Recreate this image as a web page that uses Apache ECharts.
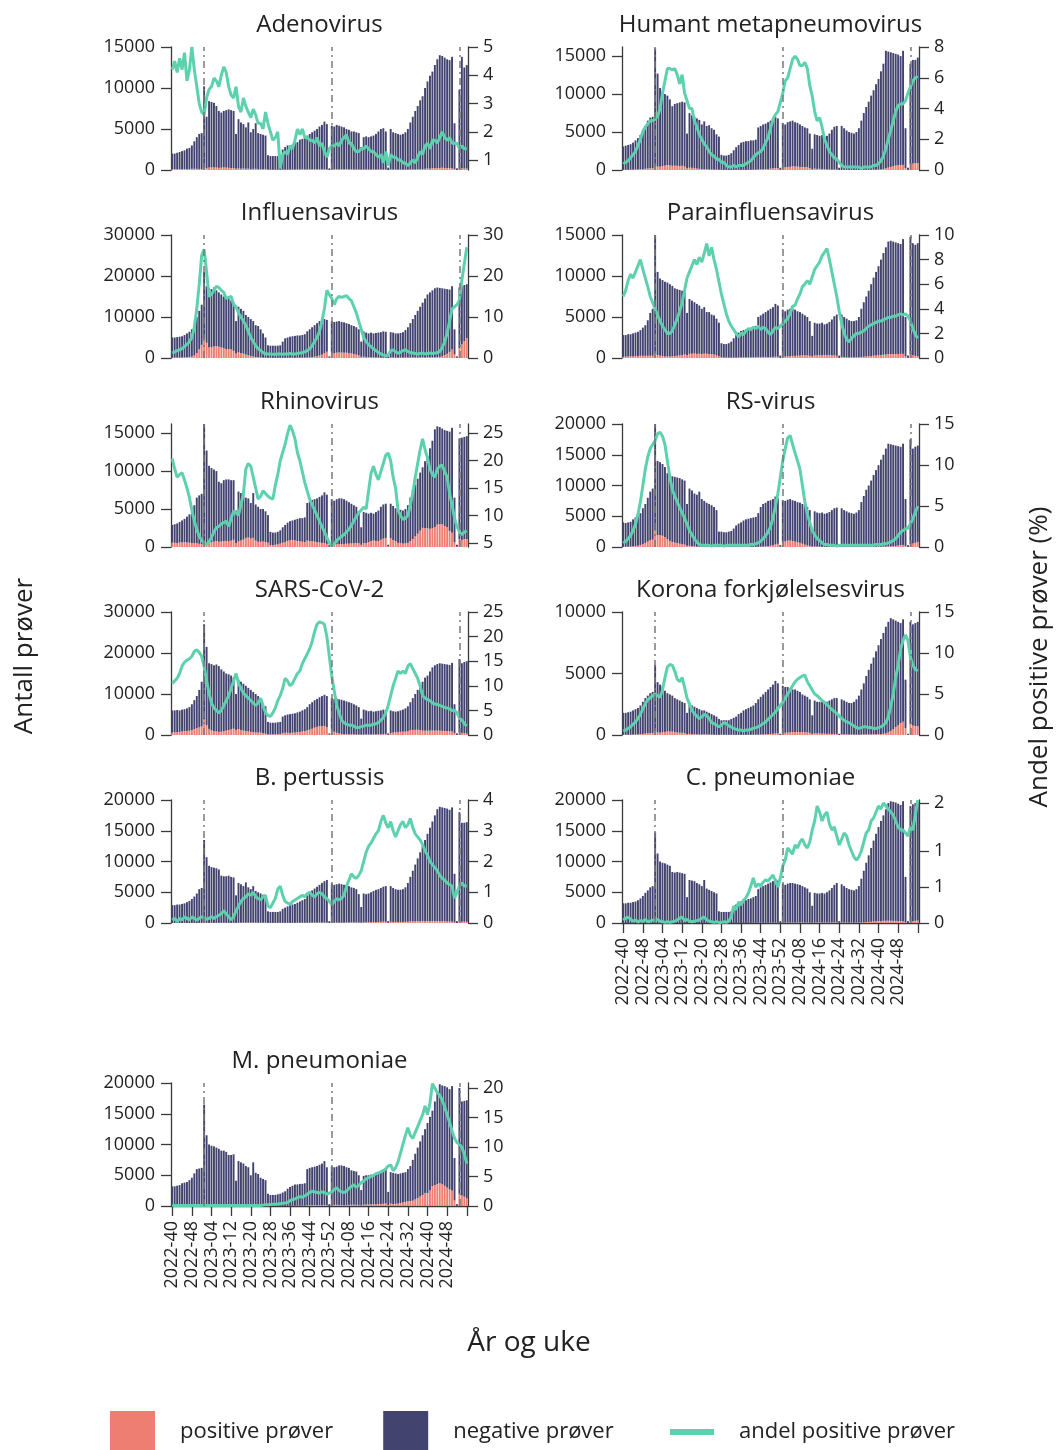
<!DOCTYPE html>
<html lang="no">
<head>
    <meta charset="UTF-8">
    <title>Luftveisagens - prøver per uke</title>
    <script src="https://cdn.jsdelivr.net/npm/echarts@6.0.0/dist/echarts.min.js"></script>
    <style>
        body { margin: 0; background: #fff; }
        #main { width: 1056px; height: 1450px; }
    </style>
</head>
<body>
<div id="main"></div>
<script>
    // uker 2022-40 .. 2025-04
    var weeks = [];
    function pad(n) { return n < 10 ? '0' + n : '' + n; }
    for (var w = 40; w <= 52; w++) weeks.push('2022-' + pad(w));
    for (w = 1; w <= 52; w++) weeks.push('2023-' + pad(w));
    for (w = 1; w <= 52; w++) weeks.push('2024-' + pad(w));
    for (w = 1; w <= 4; w++) weeks.push('2025-' + pad(w));
    var yearStarts = ['2023-01', '2024-01', '2025-01'];

    // akse-etiketter
    var ticks10k = [0, 5000, 10000];
    var ticks15k = [0, 5000, 10000, 15000];
    var ticks20k = [0, 5000, 10000, 15000, 20000];
    var ticks30k = [0, 10000, 20000, 30000];
    var adenoPctTicks = [1, 2, 3, 4, 5];
    var hmpvPctTicks = [0, 2, 4, 6, 8];
    var fluPctTicks = [0, 10, 20, 30];
    var paraPctTicks = [0, 2, 4, 6, 8, 10];
    var rhinoPctTicks = [5, 10, 15, 20, 25];
    var rsPctTicks = [0, 5, 10, 15];
    var sarsPctTicks = [0, 5, 10, 15, 20, 25];
    var koronaPctTicks = [0, 5, 10, 15];
    var pertPctTicks = [0, 1, 2, 3, 4];
    var cpneuPctTicks = [0, 0.6, 1.2, 2];
    var mpneuPctTicks = [0, 5, 10, 15, 20];

    // Adenovirus
    var adenoTot = [2000,2000,2100,2200,2300,2400,2600,2700,3000,3500,
        4000,4400,4500,10200,6500,8400,8300,8200,7800,7200,
        7000,7200,7300,7400,7300,7200,4400,6200,5800,5600,
        5200,5800,4600,5000,5700,4500,4400,4300,4200,1800,
        1700,1700,1700,1700,1800,2500,2800,3000,3000,3100,
        3300,3400,3700,3800,4000,4200,4400,4600,4800,5000,
        5300,5500,5900,5600,200,5400,5300,5500,5400,5300,
        5200,5000,4900,4700,4700,4600,4500,2800,4000,4100,
        4000,4100,4200,4400,4700,5000,5100,4700,300,5000,
        4600,4500,4400,4300,4400,4600,5000,5800,6500,7200,
        7800,8500,9000,10000,10800,11500,12000,12800,13500,14000,
        13900,13700,13500,13400,13800,5700,200,9800,13800,12500,
        12800];
    var adenoPos = [85,90,86,100,97,115,99,113,150,147,
        144,132,122,265,208,294,299,320,296,259,
        280,310,300,266,241,230,158,180,157,179,
        151,157,115,140,148,104,101,90,113,41,
        34,29,31,34,13,30,36,36,45,43,
        56,71,70,80,72,76,75,78,77,90,
        80,88,77,62,3,81,80,88,81,90,
        94,95,78,75,66,60,59,39,56,62,
        56,53,55,53,52,60,46,61,2,60,
        51,50,44,43,40,41,40,52,65,65,
        86,111,108,150,173,161,204,218,216,252,
        278,247,230,241,221,91,3,137,207,175,
        179];
    var adenoPct = [4.2,4.5,4.1,4.6,4.2,4.8,3.8,4.2,5.0,4.2,
        3.6,3.0,2.7,2.6,3.2,3.5,3.6,3.9,3.8,3.6,
        4.0,4.3,4.1,3.6,3.3,3.2,3.6,2.9,2.7,3.2,
        2.9,2.7,2.5,2.8,2.6,2.3,2.3,2.1,2.7,2.3,
        2.0,1.7,1.8,2.0,0.7,1.2,1.3,1.2,1.5,1.4,
        1.7,2.1,1.9,2.1,1.8,1.8,1.7,1.7,1.6,1.8,
        1.5,1.6,1.3,1.1,1.4,1.5,1.5,1.6,1.5,1.7,
        1.8,1.9,1.6,1.6,1.4,1.3,1.3,1.4,1.4,1.5,
        1.4,1.3,1.3,1.2,1.1,1.2,0.9,1.3,0.8,1.2,
        1.1,1.1,1.0,1.0,0.9,0.9,0.8,0.9,1.0,0.9,
        1.1,1.3,1.2,1.5,1.6,1.4,1.7,1.7,1.6,1.8,
        2.0,1.8,1.7,1.8,1.6,1.6,1.6,1.4,1.5,1.4,
        1.4];

    // Humant metapneumovirus
    var hmpvTot = [3100,3200,3300,3400,3600,3900,4200,4600,5200,5800,
        6500,6900,7000,16000,12700,10800,10300,10000,9800,9300,
        8400,8700,8800,8900,9000,8900,4800,7500,7200,7000,
        6800,6600,6000,6400,5800,5900,5500,5300,4700,4400,
        2000,1900,1900,2000,2200,2600,3000,3300,3600,3700,
        3800,3800,3900,3900,4000,5600,5800,6000,6100,6300,
        6500,6700,7000,6800,300,6200,6000,6300,6400,6500,
        6300,6200,6000,5800,5600,5500,4800,2800,4700,4600,
        4500,4600,4400,4500,4800,5300,5700,5800,300,5800,
        5500,5200,5000,4900,4800,5000,5500,6500,7500,8300,
        9000,9800,10500,11300,12000,13000,14000,15700,15600,15500,
        15400,15300,15200,15000,15700,5500,300,14000,14500,14500,
        14800];
    var hmpvPos = [12,16,20,27,36,47,67,92,130,162,
        195,221,224,528,445,432,515,580,647,614,
        546,574,546,498,558,445,216,300,288,224,
        190,152,120,109,87,71,55,48,33,31,
        10,10,6,4,4,8,6,10,11,11,
        15,19,23,31,40,62,70,84,110,132,
        176,221,252,258,13,310,348,378,422,468,
        466,446,408,394,392,363,264,134,179,147,
        153,129,88,72,58,53,46,41,2,17,
        11,10,10,10,10,10,11,7,15,17,
        18,20,32,34,48,78,126,220,312,403,
        493,581,638,645,675,248,15,756,841,870,
        903];
    var hmpvPct = [0.4,0.5,0.6,0.8,1.0,1.2,1.6,2.0,2.5,2.8,
        3.0,3.2,3.2,3.3,3.5,4.0,5.0,5.8,6.6,6.6,
        6.5,6.6,6.2,5.6,6.2,5.0,4.5,4.0,4.0,3.2,
        2.8,2.3,2.0,1.7,1.5,1.2,1.0,0.9,0.7,0.7,
        0.5,0.5,0.3,0.2,0.2,0.3,0.2,0.3,0.3,0.3,
        0.4,0.5,0.6,0.8,1.0,1.1,1.2,1.4,1.8,2.1,
        2.7,3.3,3.6,3.8,4.4,5.0,5.8,6.0,6.6,7.2,
        7.4,7.2,6.8,6.8,7.0,6.6,5.5,4.8,3.8,3.2,
        3.4,2.8,2.0,1.6,1.2,1.0,0.8,0.7,0.5,0.3,
        0.2,0.2,0.2,0.2,0.2,0.2,0.2,0.1,0.2,0.2,
        0.2,0.2,0.3,0.3,0.4,0.6,0.9,1.4,2.0,2.6,
        3.2,3.8,4.2,4.3,4.3,4.5,5.0,5.4,5.8,6.0,
        6.1];

    // Influensavirus
    var fluTot = [5000,5000,5100,5200,5300,5600,6000,6400,7000,8000,
        10000,11500,13000,21000,17500,17000,16800,17200,16500,16000,
        15500,15000,14700,14500,14000,13500,9000,12500,12000,11500,
        10500,10000,9500,9000,8000,7800,7000,6000,5000,3100,
        3000,3000,3000,3000,3100,4000,4800,5000,5200,5300,
        5400,5500,5500,5600,5800,6500,7000,7500,8000,8500,
        9000,9200,9500,9300,400,9000,8800,8900,9000,8800,
        8700,8500,8300,8000,7800,7500,7000,4000,6500,6200,
        6000,6200,6000,6100,6200,6300,6500,6400,400,6300,
        6200,6000,6000,6100,6300,6800,7500,8500,9500,10500,
        11500,12500,13500,14500,15500,16000,16500,17000,17200,17100,
        17000,16900,16800,16700,17500,7000,400,17200,17500,17800,
        18000];
    var fluPos = [60,75,90,100,120,160,200,260,350,600,
        1200,2100,3200,4700,3700,2600,2600,2800,2900,2750,
        2550,2400,2150,2150,2100,1750,1100,1350,1200,1050,
        850,650,480,360,240,180,130,80,50,30,
        30,27,27,30,31,36,48,50,57,53,
        54,60,66,73,87,117,154,225,320,425,
        585,830,1140,1530,60,1300,1150,1300,1350,1300,
        1300,1290,1200,1120,975,825,630,280,325,250,
        190,175,130,110,80,63,45,32,3,113,
        124,90,72,85,113,136,120,110,114,115,
        115,137,162,145,170,192,181,204,224,274,
        425,676,1008,1503,2100,875,52,2408,3325,4094,
        4860];
    var fluPct = [1.2,1.5,1.8,2.0,2.3,2.8,3.3,4.0,5.0,7.5,
        12,18,25,26.5,21,15,15.5,16.5,17.5,17.2,
        16.5,16,14.5,14.8,15,13,12.5,11,10,9,
        8,6.5,5,4,3,2.3,1.8,1.3,1.0,1.0,
        1.0,0.9,0.9,1.0,1.0,0.9,1.0,1.0,1.1,1.0,
        1.0,1.1,1.2,1.3,1.5,1.8,2.2,3.0,4.0,5.0,
        6.5,9,12,16.5,15.5,14.5,13,14.5,15,14.8,
        15,15.2,14.5,14,12.5,11,9,7,5,4,
        3.2,2.8,2.2,1.8,1.3,1.0,0.7,0.5,0.8,1.8,
        2.0,1.5,1.2,1.4,1.8,2.0,1.6,1.3,1.2,1.1,
        1.0,1.1,1.2,1.0,1.1,1.2,1.1,1.2,1.3,1.6,
        2.5,4,6,9,12,12.5,13,14,19,23,
        27];

    // Parainfluensavirus
    var paraTot = [2800,2800,2900,2900,3000,3100,3200,3400,3700,4000,
        4600,5500,6000,15000,10500,9700,9500,9300,9200,9000,
        8800,8500,8400,8300,8200,8000,5500,7200,7000,6800,
        6600,6400,6000,6200,5600,5600,5300,5200,4800,4300,
        1800,1700,1700,1800,2000,2400,2800,3100,3300,3400,
        3500,3600,3700,3800,3900,5000,5200,5400,5600,5800,
        6000,6200,6600,6400,300,5900,5700,5900,6000,6000,
        5900,5700,5600,5400,5200,5000,4500,2700,4300,4200,
        4200,4300,4100,4200,4400,4700,5100,5300,300,5300,
        5000,4800,4600,4500,4500,4600,5000,6000,6800,7500,
        8200,9000,9800,10500,11200,12000,12800,13500,14200,14300,
        14200,14100,14000,13900,14500,5000,300,14800,14000,13800,
        14000];
    var paraPos = [140,154,183,197,195,217,240,272,266,260,
        267,275,270,600,368,291,247,214,184,180,
        194,230,269,315,369,440,358,504,525,544,
        502,525,468,527,521,465,477,416,312,215,
        72,54,48,41,40,53,45,62,76,65,
        77,86,85,95,94,130,120,135,134,122,
        114,136,165,154,8,165,171,189,216,252,
        254,274,291,313,312,315,270,178,310,315,
        328,357,353,374,352,329,306,265,11,148,
        100,72,60,72,81,92,100,126,150,180,
        213,243,274,305,336,360,397,432,469,472,
        483,479,490,500,508,180,10,444,336,262,
        224];
    var paraPct = [5.0,5.5,6.3,6.8,6.5,7.0,7.5,8.0,7.2,6.5,
        5.8,5.0,4.5,4.0,3.5,3.0,2.6,2.3,2.0,2.0,
        2.2,2.7,3.2,3.8,4.5,5.5,6.5,7.0,7.5,8.0,
        7.6,8.2,7.8,8.5,9.3,8.3,9.0,8.0,7.2,6.2,
        5.2,4.4,3.6,3.0,2.6,2.3,2.0,1.7,2.0,1.9,
        2.2,2.4,2.3,2.5,2.4,2.6,2.3,2.5,2.4,2.1,
        1.9,2.2,2.5,2.4,2.6,2.8,3.0,3.2,3.6,4.2,
        4.3,4.8,5.2,5.8,6.0,6.3,6.0,6.6,7.2,7.5,
        7.8,8.3,8.6,8.9,8.0,7.0,6.0,5.0,3.8,2.8,
        2.0,1.5,1.3,1.6,1.8,2.0,2.0,2.1,2.2,2.4,
        2.6,2.7,2.8,2.9,3.0,3.0,3.1,3.2,3.3,3.3,
        3.4,3.4,3.5,3.6,3.5,3.6,3.4,3.0,2.4,1.9,
        1.6];

    // Rhinovirus
    var rhinoTot = [2900,3000,3100,3300,3500,3700,4000,4300,4700,5500,
        6500,6800,7000,16200,12700,10700,10400,10200,10000,8600,
        8400,8800,8900,8900,8800,8800,4800,7300,7100,7000,
        6500,6400,5800,7100,5600,5300,5000,5000,4700,4200,
        2000,1900,1900,2000,2200,2600,2900,3200,3400,3500,
        3600,3700,3800,3800,3900,5800,6000,6200,6300,6400,
        6600,6800,7200,6900,300,6300,6100,6300,6400,6400,
        6300,6100,5900,5700,5500,5300,4700,2600,4600,4500,
        4400,4500,4400,4600,4800,5300,5600,5700,300,5700,
        5400,5100,5000,4900,4800,5000,5500,6500,7500,8200,
        9000,9800,10500,11300,12000,13000,14000,15500,15900,15800,
        15600,15400,15300,15200,15700,6500,300,14300,14400,14500,
        14600];
    var rhinoPos = [592,555,527,578,623,610,600,572,517,495,
        488,422,385,810,597,556,624,714,780,688,
        714,766,801,712,836,950,504,730,852,980,
        1203,1248,1102,1207,840,689,675,725,658,567,
        264,247,295,350,440,559,667,800,901,893,
        864,796,760,684,624,841,780,744,693,640,
        594,544,504,414,15,284,293,347,371,397,
        410,427,443,467,495,519,494,286,529,504,
        638,797,836,805,792,954,1092,1197,64,1140,
        918,765,550,490,446,475,550,780,1050,1394,
        1755,2156,2520,2486,2460,2405,2450,2635,2942,3002,
        2995,2772,2601,2128,1884,618,24,1001,936,1015,
        1051];
    var rhinoPct = [20.4,18.5,17.0,17.5,17.8,16.5,15.0,13.3,11.0,9.0,
        7.5,6.2,5.5,5.0,4.7,5.2,6.0,7.0,7.8,8.0,
        8.5,8.7,9.0,8.0,9.5,10.8,10.5,10.0,12.0,14.0,
        18.5,19.5,19.0,17.0,15.0,13.0,13.5,14.5,14.0,13.5,
        13.2,13.0,15.5,17.5,20.0,21.5,23.0,25.0,26.5,25.5,
        24.0,21.5,20.0,18.0,16.0,14.5,13.0,12.0,11.0,10.0,
        9.0,8.0,7.0,6.0,5.0,4.5,4.8,5.5,5.8,6.2,
        6.5,7.0,7.5,8.2,9.0,9.8,10.5,11.0,11.5,11.2,
        14.5,17.7,19.0,17.5,16.5,18.0,19.5,21.0,21.4,20.0,
        17.0,15.0,11.0,10.0,9.3,9.5,10.0,12.0,14.0,17.0,
        19.5,22.0,24.0,22.0,20.5,18.5,17.5,17.0,18.5,19.0,
        19.2,18.0,17.0,14.0,12.0,9.5,8.0,7.0,6.5,7.0,
        7.2];

    // RS-virus
    var rsTot = [4000,3900,4000,4100,4500,4800,5000,5500,6300,7000,
        8000,9000,9500,20000,14000,13800,13500,13000,12000,11800,
        11500,11400,11300,11200,11000,10800,7000,9500,9200,8700,
        8500,9000,7800,7500,7200,7000,6800,6500,6000,2500,
        2500,2400,2400,2500,2600,3000,3500,3800,4000,4300,
        4500,4600,4700,4800,4900,5500,6500,7000,7200,7500,
        7600,7800,8200,7900,300,7600,7500,7700,7800,7600,
        7500,7300,7200,7000,6800,6500,6000,2800,5800,5600,
        5500,5600,5400,5500,5700,6000,6300,6400,300,6300,
        6000,5800,5600,5500,5400,5600,6000,7300,8300,9300,
        10000,10800,11700,12500,13300,14200,15000,16000,16800,16700,
        16600,16500,16400,16300,16800,7800,300,17500,16000,16300,
        16500];
    var rsPos = [20,27,40,57,90,134,200,303,473,665,
        880,1080,1190,2665,1930,1930,1820,1625,1260,1000,
        805,707,620,538,462,378,196,190,138,87,
        51,27,16,15,14,14,7,13,12,5,
        5,2,5,5,5,6,7,8,8,9,
        9,9,14,14,20,28,46,70,100,135,
        190,273,410,513,26,800,900,1024,1060,950,
        862,766,684,525,374,260,180,56,87,56,
        44,28,16,17,11,12,13,6,1,13,
        12,12,11,11,11,11,12,15,17,19,
        20,22,23,38,40,43,60,64,84,100,
        133,165,230,293,336,172,7,490,560,685,
        825];
    var rsPct = [0.5,0.7,1.0,1.4,2.0,2.8,4.0,5.5,7.5,9.5,
        11.0,12.0,12.5,13.0,13.8,14.0,13.5,12.5,10.5,8.5,
        7.0,6.2,5.5,4.8,4.2,3.5,2.8,2.0,1.5,1.0,
        0.6,0.3,0.2,0.2,0.2,0.2,0.1,0.2,0.2,0.2,
        0.2,0.1,0.2,0.2,0.2,0.2,0.2,0.2,0.2,0.2,
        0.2,0.2,0.3,0.3,0.4,0.5,0.7,1.0,1.4,1.8,
        2.5,3.5,5.0,6.5,8.5,10.5,12.0,13.3,13.6,12.5,
        11.5,10.5,9.5,7.5,5.5,4.0,3.0,2.0,1.5,1.0,
        0.8,0.5,0.3,0.3,0.2,0.2,0.2,0.1,0.2,0.2,
        0.2,0.2,0.2,0.2,0.2,0.2,0.2,0.2,0.2,0.2,
        0.2,0.2,0.2,0.3,0.3,0.3,0.4,0.4,0.5,0.6,
        0.8,1.0,1.4,1.8,2.0,2.2,2.3,2.8,3.5,4.2,
        5.0];

    // SARS-CoV-2
    var sarsTot = [6000,6000,6100,6000,6200,6300,6500,6800,7500,8500,
        9500,11000,13000,27000,21500,17500,17300,17000,17200,16800,
        16000,15500,15000,14800,14500,14000,10000,13500,13000,12500,
        12000,11500,11000,10500,10000,9500,8000,7500,7000,3200,
        3000,3000,3000,3100,3200,4500,4800,5000,5100,5200,
        5300,5500,5700,6000,6300,6800,7500,8000,8500,8800,
        9200,9500,9800,9500,400,9000,8800,8900,8700,8600,
        8400,8200,8000,7800,7500,7200,6800,4000,6200,6000,
        5800,5900,5700,5800,5900,6000,6200,6100,400,6000,
        5800,5700,5800,6000,6200,6500,7000,8000,9000,10000,
        11000,12000,13000,14000,14500,15500,16500,17000,17300,17500,
        17400,17300,17200,17100,17600,7500,400,18500,17500,17800,
        18000];
    var sarsPos = [630,660,700,750,870,930,990,1050,1200,1445,
        1640,1850,2080,3780,2365,1490,1125,935,860,755,
        800,930,1050,1185,1380,1540,1250,1420,1235,1060,
        960,860,770,680,600,620,600,450,315,128,
        114,135,165,217,256,428,552,550,510,546,
        610,688,741,870,977,1122,1313,1520,1785,1980,
        2116,2166,2205,1900,64,1080,792,534,392,258,
        210,180,160,156,135,108,102,68,112,120,
        116,118,125,133,148,180,217,275,24,480,
        580,656,754,750,806,813,980,1160,1215,1250,
        1265,1200,1040,1050,1044,1085,1073,1071,1073,1050,
        1009,969,946,906,880,375,18,648,525,409,
        324];
    var sarsPct = [10.5,11.0,11.5,12.5,14.0,14.8,15.2,15.5,16.0,17.0,
        17.3,16.8,16.0,14.0,11.0,8.5,6.5,5.5,5.0,4.5,
        5.0,6.0,7.0,8.0,9.5,11.0,12.5,10.5,9.5,8.5,
        8.0,7.5,7.0,6.5,6.0,6.5,7.5,6.0,4.5,4.0,
        3.8,4.5,5.5,7.0,8.0,9.5,11.5,11.0,10.0,10.5,
        11.5,12.5,13.0,14.5,15.5,16.5,17.5,19.0,21.0,22.5,
        23.0,22.8,22.5,20.0,16.0,12.0,9.0,6.0,4.5,3.0,
        2.5,2.2,2.0,2.0,1.8,1.5,1.5,1.7,1.8,2.0,
        2.0,2.0,2.2,2.3,2.5,3.0,3.5,4.5,6.0,8.0,
        10.0,11.5,13.0,12.5,13.0,12.5,14.0,14.5,13.5,12.5,
        11.5,10.0,8.0,7.5,7.2,7.0,6.5,6.3,6.2,6.0,
        5.8,5.6,5.5,5.3,5.0,5.0,4.5,3.5,3.0,2.3,
        1.8];

    // Korona forkjølelsesvirus
    var koronaTot = [1800,1800,1850,1900,2000,2100,2200,2400,2700,3000,
        3200,3400,3500,5700,4300,4100,4000,3600,3400,3300,
        3200,3000,2900,2800,2700,2600,1800,2500,2400,2300,
        2200,2100,2000,2000,1900,1800,1700,1600,1500,1300,
        1200,1200,1200,1200,1300,1400,1500,1700,1800,2000,
        2100,2200,2300,2400,2600,2900,3100,3300,3500,3700,
        3900,4100,4400,4200,100,4000,3900,3900,3800,3700,
        3700,3600,3500,3300,3200,3100,2900,1600,2800,2700,
        2700,2700,2600,2700,2800,2900,3000,3000,100,2900,
        2800,2700,2600,2600,2700,2900,3200,3700,4200,4800,
        5300,5800,6300,6800,7300,7800,8300,8800,9200,9500,
        9400,9300,9200,9100,9400,4500,100,9200,9000,9100,
        9200];
    var koronaPos = [9,11,15,19,26,34,44,60,86,114,
        138,153,168,285,206,189,220,252,282,284,
        272,234,197,182,189,151,81,95,72,60,
        51,42,44,50,46,36,26,22,18,13,
        14,18,17,13,13,11,11,10,11,10,
        13,13,16,19,23,29,37,46,56,70,
        86,103,123,134,4,160,176,195,209,222,
        240,245,245,238,234,202,174,88,140,130,
        122,113,104,100,95,90,87,78,2,58,
        50,43,39,34,30,26,26,33,42,48,
        48,52,50,54,66,78,100,132,202,333,
        470,651,782,956,1081,549,12,874,765,728,
        718];
    var koronaPct = [0.5,0.6,0.8,1.0,1.3,1.6,2.0,2.5,3.2,3.8,
        4.3,4.5,4.8,5.0,4.8,4.6,5.5,7.0,8.3,8.6,
        8.5,7.8,6.8,6.5,7.0,5.8,4.5,3.8,3.0,2.6,
        2.3,2.0,2.2,2.5,2.4,2.0,1.5,1.4,1.2,1.0,
        1.2,1.5,1.4,1.1,1.0,0.8,0.7,0.6,0.6,0.5,
        0.6,0.6,0.7,0.8,0.9,1.0,1.2,1.4,1.6,1.9,
        2.2,2.5,2.8,3.2,3.6,4.0,4.5,5.0,5.5,6.0,
        6.5,6.8,7.0,7.2,7.3,6.5,6.0,5.5,5.0,4.8,
        4.5,4.2,4.0,3.7,3.4,3.1,2.9,2.6,2.3,2.0,
        1.8,1.6,1.5,1.3,1.1,0.9,0.8,0.9,1.0,1.0,
        0.9,0.9,0.8,0.8,0.9,1.0,1.2,1.5,2.2,3.5,
        5.0,7.0,8.5,10.5,11.5,12.2,11.5,9.5,8.5,8.0,
        7.8];

    // B. pertussis
    var pertTot = [2900,2900,3000,3000,3100,3200,3400,3600,3900,4300,
        4800,5500,5700,13500,10700,9300,9100,9000,8900,8700,
        7700,7600,7600,7700,7500,7400,4500,6500,6300,6000,
        6600,5800,5500,6000,5200,5000,4800,4600,4400,1900,
        1800,1800,1800,1800,1900,2300,2500,2700,2900,3000,
        3100,3300,3500,3700,3900,4500,5000,5300,5600,5900,
        6200,6500,6800,7000,300,6400,6200,6300,6400,6300,
        6200,6100,6000,5800,5700,5500,4700,2600,4800,4700,
        4800,5000,5200,5400,5500,5700,5900,6000,300,6000,
        5700,5500,5400,5400,5500,5800,6500,7500,8500,9500,
        10500,11500,12500,13500,14500,15500,16500,17500,18500,18900,
        18800,18700,18600,18400,18800,8000,300,18000,16300,16300,
        16400];
    var pertPos = [3,4,2,5,3,6,5,4,8,6,
        5,8,11,24,13,14,18,14,18,22,
        23,30,23,15,8,15,18,36,44,48,
        56,55,50,60,44,40,36,39,40,10,
        9,12,14,20,23,21,18,18,17,21,
        23,26,30,33,33,43,50,48,48,56,
        62,62,58,56,2,38,43,50,48,50,
        56,73,84,93,86,80,73,44,96,108,
        120,130,143,157,165,188,207,195,9,198,
        171,154,162,173,182,180,208,255,264,276,
        294,311,319,317,319,310,314,315,315,293,
        273,262,242,230,226,64,3,216,212,196,
        197];
    var pertPct = [0.10,0.15,0.05,0.15,0.10,0.20,0.15,0.10,0.20,0.15,
        0.10,0.15,0.20,0.18,0.12,0.15,0.20,0.15,0.20,0.25,
        0.30,0.40,0.30,0.20,0.10,0.20,0.40,0.55,0.70,0.80,
        0.85,0.95,0.90,1.00,0.85,0.80,0.75,0.85,0.90,0.55,
        0.50,0.65,0.80,1.10,1.20,0.90,0.70,0.65,0.60,0.70,
        0.75,0.80,0.85,0.90,0.85,0.95,1.00,0.90,0.85,0.95,
        1.00,0.95,0.85,0.80,0.70,0.60,0.70,0.80,0.75,0.80,
        0.90,1.20,1.40,1.60,1.50,1.45,1.55,1.70,2.00,2.30,
        2.50,2.60,2.75,2.90,3.00,3.30,3.50,3.25,3.10,3.30,
        3.00,2.80,3.00,3.20,3.30,3.10,3.20,3.40,3.10,2.90,
        2.80,2.70,2.55,2.35,2.20,2.00,1.90,1.80,1.70,1.55,
        1.45,1.40,1.30,1.25,1.20,0.80,1.00,1.20,1.30,1.20,
        1.20];

    // C. pneumoniae
    var cpneuTot = [3200,3200,3300,3300,3400,3500,3700,4000,4400,4900,
        5300,5800,6000,14700,11300,10000,9800,9700,9500,9300,
        8300,8200,8300,8200,8100,8000,4200,7000,6900,6800,
        6500,6300,6000,7000,5600,5400,5200,5000,4800,1900,
        1800,1800,1800,1800,1900,2600,3000,3200,3500,3600,
        3700,3900,4000,4200,4400,5500,5800,6000,6200,6400,
        6600,6800,7200,6900,300,6400,6200,6400,6500,6500,
        6400,6300,6200,6000,5800,5600,5000,2800,4900,4800,
        4800,4900,4800,5000,5300,5700,6200,6500,300,6300,
        6000,5700,5500,5400,5300,5500,6000,7200,8500,9800,
        11000,12200,13400,14500,15600,16600,17500,18500,19500,19800,
        19700,19600,19400,19200,19800,7500,300,19000,19300,19500,
        19800];
    var cpneuPos = [2,3,3,2,1,2,1,2,1,3,
        1,2,3,6,7,3,2,1,2,1,
        2,2,4,7,8,3,3,2,1,2,
        3,3,5,7,3,2,1,1,1,0,
        0,0,0,1,2,7,7,11,11,14,
        16,20,25,32,26,36,36,41,45,45,
        50,54,50,41,2,61,65,80,78,75,
        83,79,84,84,75,70,68,43,83,94,
        89,83,86,93,87,88,99,94,4,88,
        90,83,72,65,58,58,66,86,115,147,
        171,207,235,268,304,315,350,361,371,366,
        355,333,310,298,307,113,4,304,299,351,
        406];
    var cpneuPct = [0.05,0.08,0.10,0.06,0.03,0.05,0.02,0.04,0.03,0.06,
        0.02,0.03,0.05,0.04,0.06,0.03,0.02,0.01,0.02,0.01,
        0.02,0.03,0.05,0.08,0.10,0.04,0.06,0.03,0.02,0.03,
        0.04,0.05,0.08,0.10,0.05,0.03,0.02,0.01,0.02,0.01,
        0.01,0.02,0.01,0.03,0.10,0.28,0.22,0.35,0.30,0.38,
        0.42,0.50,0.62,0.75,0.60,0.65,0.62,0.68,0.72,0.70,
        0.75,0.80,0.70,0.60,0.75,0.95,1.05,1.25,1.20,1.15,
        1.30,1.25,1.35,1.40,1.30,1.25,1.35,1.55,1.70,1.95,
        1.85,1.70,1.80,1.85,1.65,1.55,1.60,1.45,1.30,1.40,
        1.50,1.45,1.30,1.20,1.10,1.05,1.10,1.20,1.35,1.50,
        1.55,1.70,1.75,1.85,1.95,1.90,2.00,1.95,1.90,1.85,
        1.80,1.70,1.60,1.55,1.55,1.50,1.45,1.60,1.55,1.80,
        2.05];

    // M. pneumoniae
    var mpneuTot = [3200,3200,3300,3400,3700,3800,3900,4200,4600,5300,
        6000,6100,6200,16500,11500,10000,9800,9700,9500,9300,
        9000,9000,8800,8300,8300,8400,4100,7300,7100,6900,
        6500,6300,5000,7100,5400,5200,4600,4400,4200,2000,
        1800,1800,1800,1900,2000,2200,2400,2800,3100,3300,
        3500,3500,3600,3600,3700,6000,6200,6300,6400,6500,
        6700,6900,7300,6300,300,6400,6300,6400,6600,6600,
        6500,6300,6200,5800,5700,5600,5000,2600,4900,5000,
        5000,5100,5000,5100,5300,5500,6000,6200,2300,5500,
        5400,5300,5200,5300,5400,5500,6000,6500,7500,8500,
        9500,10500,11500,12500,13500,14500,15500,17000,18500,19800,
        19600,19500,19300,19000,19500,7800,300,19200,17000,17100,
        17200];
    var mpneuPos = [3,3,3,3,4,4,4,4,5,5,
        6,6,6,16,12,10,10,10,10,9,
        9,9,9,8,8,8,4,7,7,7,
        7,6,5,7,5,5,5,7,8,4,
        5,5,5,7,8,10,12,17,28,36,
        42,49,58,54,63,120,143,158,154,150,
        147,166,168,126,7,154,176,198,172,158,
        150,158,186,191,205,179,175,104,206,230,
        240,255,260,281,297,319,360,391,156,385,
        324,345,390,477,567,660,798,780,863,1063,
        1283,1523,1783,2125,2093,2538,3224,3400,3571,3722,
        3528,3276,2992,2698,2496,897,32,2016,1700,1505,
        1238];
    var mpneuPct = [0.1,0.1,0.1,0.1,0.1,0.1,0.1,0.1,0.1,0.1,
        0.1,0.1,0.1,0.1,0.1,0.1,0.1,0.1,0.1,0.1,
        0.1,0.1,0.1,0.1,0.1,0.1,0.1,0.1,0.1,0.1,
        0.1,0.1,0.1,0.1,0.1,0.1,0.1,0.15,0.2,0.2,
        0.25,0.3,0.3,0.35,0.4,0.45,0.5,0.6,0.9,1.1,
        1.2,1.4,1.6,1.5,1.7,2.0,2.3,2.5,2.4,2.3,
        2.2,2.4,2.3,2.0,2.2,2.4,2.8,3.1,2.6,2.4,
        2.3,2.5,3.0,3.3,3.6,3.2,3.5,4.0,4.2,4.6,
        4.8,5.0,5.2,5.5,5.6,5.8,6.0,6.3,6.8,7.0,
        6.0,6.5,7.5,9.0,10.5,12.0,13.3,12.0,11.5,12.5,
        13.5,14.5,15.5,17.0,15.5,17.5,20.8,20.0,19.3,18.8,
        18.0,16.8,15.5,14.2,12.8,11.5,10.8,10.5,10.0,8.8,
        7.2];

    var panels = [
        {title: 'Adenovirus', tot: adenoTot, pos: adenoPos, pct: adenoPct, yMax: 15000, yTicks: ticks15k, rMin: 0.65, rMax: 5, rTicks: adenoPctTicks},
        {title: 'Humant metapneumovirus', tot: hmpvTot, pos: hmpvPos, pct: hmpvPct, yMax: 16200, yTicks: ticks15k, rMin: 0, rMax: 8, rTicks: hmpvPctTicks},
        {title: 'Influensavirus', tot: fluTot, pos: fluPos, pct: fluPct, yMax: 30000, yTicks: ticks30k, rMin: 0, rMax: 30, rTicks: fluPctTicks},
        {title: 'Parainfluensavirus', tot: paraTot, pos: paraPos, pct: paraPct, yMax: 15000, yTicks: ticks15k, rMin: 0, rMax: 10, rTicks: paraPctTicks},
        {title: 'Rhinovirus', tot: rhinoTot, pos: rhinoPos, pct: rhinoPct, yMax: 16200, yTicks: ticks15k, rMin: 4.26, rMax: 26.7, rTicks: rhinoPctTicks},
        {title: 'RS-virus', tot: rsTot, pos: rsPos, pct: rsPct, yMax: 20000, yTicks: ticks20k, rMin: 0, rMax: 15, rTicks: rsPctTicks},
        {title: 'SARS-CoV-2', tot: sarsTot, pos: sarsPos, pct: sarsPct, yMax: 30000, yTicks: ticks30k, rMin: 0, rMax: 25, rTicks: sarsPctTicks},
        {title: 'Korona forkjølelsesvirus', tot: koronaTot, pos: koronaPos, pct: koronaPct, yMax: 10000, yTicks: ticks10k, rMin: 0, rMax: 15, rTicks: koronaPctTicks},
        {title: 'B. pertussis', tot: pertTot, pos: pertPos, pct: pertPct, yMax: 20000, yTicks: ticks20k, rMin: 0, rMax: 4, rTicks: pertPctTicks},
        {title: 'C. pneumoniae', tot: cpneuTot, pos: cpneuPos, pct: cpneuPct, yMax: 20000, yTicks: ticks20k, rMin: 0, rMax: 2.05, rTicks: cpneuPctTicks},
        {title: 'M. pneumoniae', tot: mpneuTot, pos: mpneuPos, pct: mpneuPct, yMax: 20000, yTicks: ticks20k, rMin: 0, rMax: 20.9, rTicks: mpneuPctTicks}
    ];

    var FONT = '"Open Sans", sans-serif';
    var TXT = '#222';
    var AX = '#3a3a3a';
    var POS_C = '#ee7e72';
    var NEG_C = '#42446f';
    var LINE_C = '#5dd1ad';
    var colLeft = [171, 622];
    var rowTop = [47, 235, 424, 612, 800, 1083];
    var gw = 297, gh = 123;

    var titles = [], grids = [], xAxes = [], yAxes = [], series = [];
    panels.forEach(function (p, k) {
        var col = k < 10 ? k % 2 : 0;
        var top = rowTop[k < 10 ? Math.floor(k / 2) : 5];
        var left = colLeft[col];
        var bottomAxis = (k === 9 || k === 10);

        titles.push({
            text: p.title, left: left + gw / 2, top: top - 34, textAlign: 'center', padding: 0,
            textStyle: {fontFamily: FONT, fontSize: 24, fontWeight: 'normal', color: TXT}
        });
        grids.push({left: left, top: top, width: gw, height: gh});
        xAxes.push({
            type: 'category', gridIndex: k, data: weeks, boundaryGap: true,
            axisLine: {show: bottomAxis, lineStyle: {color: AX, width: 1.3}},
            axisTick: {show: bottomAxis, alignWithLabel: true, length: 10,
                interval: function (i) { return i % 8 === 0; },
                lineStyle: {color: AX, width: 1.3}},
            axisLabel: {show: bottomAxis, rotate: 90, fontSize: 18, color: TXT, fontFamily: FONT, margin: 15,
                interval: function (i) { return i % 8 === 0 && i < 120; }},
            splitLine: {show: false}
        });
        yAxes.push({
            type: 'value', gridIndex: k, position: 'left', min: 0, max: p.yMax,
            axisLine: {show: true, lineStyle: {color: AX, width: 1.3}},
            axisTick: {show: true, length: 10, customValues: p.yTicks, lineStyle: {color: AX, width: 1.3}},
            axisLabel: {customValues: p.yTicks, fontSize: 18, color: TXT, fontFamily: FONT, margin: 16,
                formatter: function (v) { return String(v); }},
            splitLine: {show: false}
        });
        yAxes.push({
            type: 'value', gridIndex: k, position: 'right', min: p.rMin, max: p.rMax,
            axisLine: {show: true, lineStyle: {color: AX, width: 1.3}},
            axisTick: {show: true, length: 10, customValues: p.rTicks, lineStyle: {color: AX, width: 1.3}},
            axisLabel: {customValues: p.rTicks, fontSize: 18, color: TXT, fontFamily: FONT, margin: 15,
                formatter: function (v) { return String(Math.round(v)); }},
            splitLine: {show: false}
        });

        // årsskifte
        series.push({
            type: 'line', name: 'aarsskifte', xAxisIndex: k, yAxisIndex: 2 * k, data: [], z: 1, silent: true,
            markLine: {
                symbol: 'none', silent: true, label: {show: false}, animation: false,
                lineStyle: {color: '#7a7a7a', width: 1.5, type: [7, 4, 2, 4]},
                data: yearStarts.map(function (c) { return {xAxis: c}; })
            }
        });
        var neg = p.tot.map(function (t, i) { return Math.max(t - p.pos[i], 0); });
        series.push({
            type: 'bar', name: 'positive prøver', xAxisIndex: k, yAxisIndex: 2 * k, stack: 'st' + k,
            data: p.pos, itemStyle: {color: POS_C}, barCategoryGap: '22%', z: 2
        });
        series.push({
            type: 'bar', name: 'negative prøver', xAxisIndex: k, yAxisIndex: 2 * k, stack: 'st' + k,
            data: neg, itemStyle: {color: NEG_C}, barCategoryGap: '22%', z: 2
        });
        series.push({
            type: 'line', name: 'andel positive prøver', xAxisIndex: k, yAxisIndex: 2 * k + 1,
            data: p.pct, symbol: 'none', z: 4,
            lineStyle: {color: LINE_C, width: 3}, itemStyle: {color: LINE_C}
        });
    });

    var chart = echarts.init(document.getElementById('main'), null, {renderer: 'canvas'});
    chart.setOption({
        animation: false,
        textStyle: {fontFamily: FONT},
        title: titles,
        grid: grids,
        xAxis: xAxes,
        yAxis: yAxes,
        legend: [
            {
                data: ['positive prøver', 'negative prøver'], left: 110, top: 1411, padding: 0,
                itemWidth: 45, itemHeight: 42, itemGap: 50, icon: 'rect', selectedMode: false,
                textStyle: {fontSize: 22, color: TXT, fontFamily: FONT, padding: [0, 0, 0, 20]}
            },
            {
                data: ['andel positive prøver'], left: 670, top: 1421, padding: 0,
                itemWidth: 44, itemHeight: 6, icon: 'rect', selectedMode: false,
                textStyle: {fontSize: 22, color: TXT, fontFamily: FONT, padding: [0, 0, 0, 20]}
            }
        ],
        graphic: [
            {type: 'text', x: 25, y: 656, rotation: Math.PI / 2,
                style: {text: 'Antall prøver', fontSize: 26, fontFamily: FONT, fill: TXT, align: 'center', verticalAlign: 'middle'}},
            {type: 'text', x: 1040, y: 657, rotation: Math.PI / 2,
                style: {text: 'Andel positive prøver (%)', fontSize: 26, fontFamily: FONT, fill: TXT, align: 'center', verticalAlign: 'middle'}},
            {type: 'text', x: 529, y: 1343,
                style: {text: 'År og uke', fontSize: 28, fontFamily: FONT, fill: TXT, align: 'center', verticalAlign: 'middle'}}
        ],
        series: series
    });
</script>
</body>
</html>
